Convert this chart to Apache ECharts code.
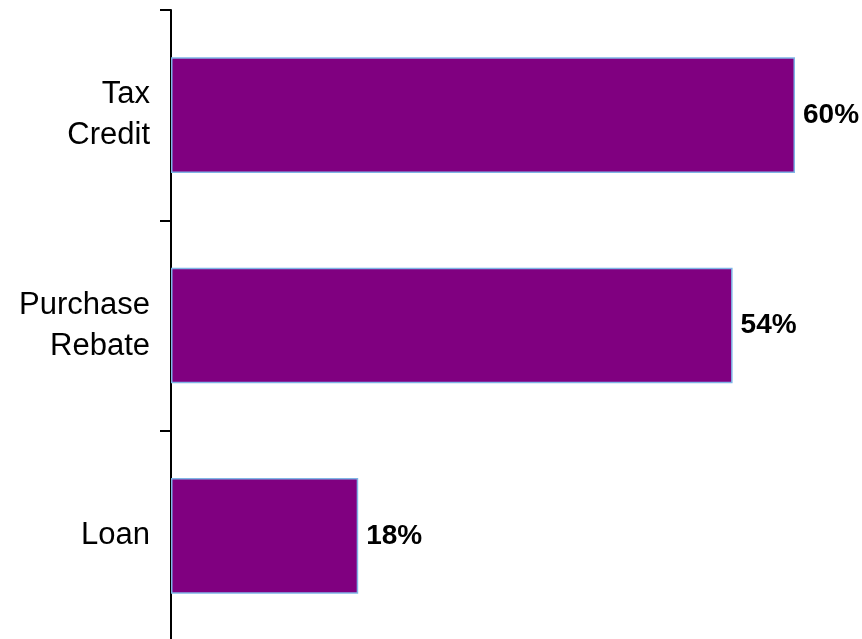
<!DOCTYPE html>
<html>
<head>
<meta charset="utf-8">
<script src="https://cdn.jsdelivr.net/npm/echarts@6/dist/echarts.min.js"></script>
<style>
  html, body { margin: 0; padding: 0; background: #fff; }
  #chart { width: 862px; height: 639px; }
</style>
</head>
<body>
<div id="chart"></div>
<script>
const categories = ['Loan', 'Purchase\nRebate', 'Tax\nCredit']
const shares = [18, 54, 60]

const chart = echarts.init(document.getElementById('chart'))

chart.setOption({
  animation: false,
  grid: { left: 171, top: 10, right: 67, bottom: -2, outerBoundsMode: 'none', containLabel: false },
  xAxis: {
    type: 'value',
    min: 0,
    max: 60,
    show: false
  },
  yAxis: {
    type: 'category',
    data: categories,
    axisLine: { show: true, lineStyle: { color: '#000', width: 2 } },
    axisTick: { show: true, interval: 0, inside: false, length: 11, lineStyle: { color: '#000', width: 2 } },
    axisLabel: {
      color: '#000',
      fontFamily: 'Liberation Sans, Arial, sans-serif',
      fontSize: 31,
      lineHeight: 41,
      align: 'right',
      margin: 21
    }
  },
  series: [{
    type: 'bar',
    data: shares,
    barCategoryGap: '45%',
    itemStyle: { color: '#800080', borderColor: '#7fb5e6', borderWidth: 1.5 },
    label: {
      show: true,
      position: 'right',
      distance: 8,
      formatter: '{c}%',
      color: '#000',
      fontFamily: 'Liberation Sans, Arial, sans-serif',
      fontWeight: 'bold',
      fontSize: 28
    }
  }]
})
</script>
</body>
</html>
